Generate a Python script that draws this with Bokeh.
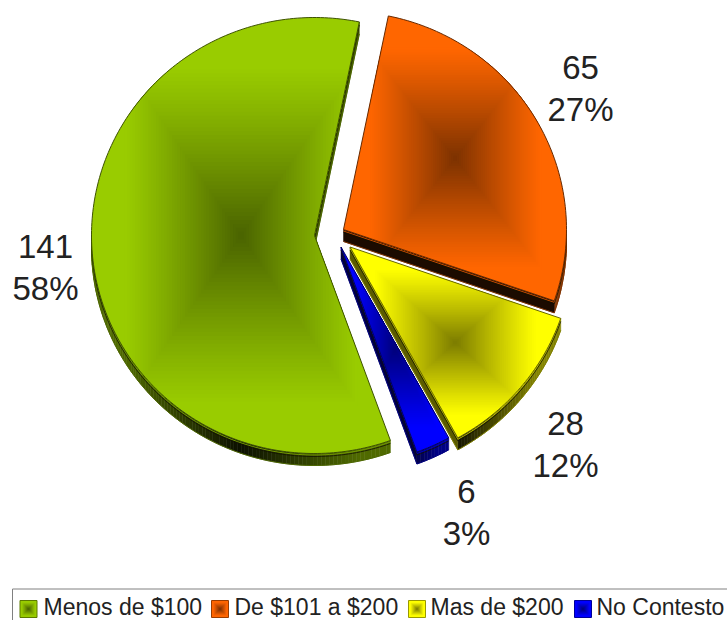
from bokeh.plotting import figure
from bokeh.models import Range1d
from bokeh.embed import file_html
from bokeh.resources import INLINE
import math

categories = ["Menos de $100", "De $101 a $200", "Mas de $200", "No Contesto"]
values = [141, 65, 28, 6]
percent_labels = ["58%", "27%", "12%", "3%"]
base_colors = [(153, 204, 0), (255, 102, 0), (255, 255, 0), (0, 0, 255)]

# layout
START = 160.1
APEX = [(314, 235), (343, 229), (349.5, 246.5), (340.5, 246.5)]
RX, RY = 223, 218
DEPTH = 12
LABEL_POS = [(45, 246), (580, 67), (565, 423), (466, 491)]
LABEL_GAP = 42
LEGEND_X = [19.5, 211, 408, 574]
TEXT_X = [43, 234, 430, 596]
GRAD_END = 0.78
DARK = 0.48

p = figure(width=727, height=620, x_range=Range1d(0, 727), y_range=Range1d(620, 0),
           output_backend="svg", toolbar_location=None, min_border=0,
           outline_line_color=None)
p.axis.visible = False
p.grid.visible = False
p.background_fill_color = "white"
p.border_fill_color = "white"


def hexc(c):
    return "#%02x%02x%02x" % tuple(int(round(max(0, min(255, v)))) for v in c)


def clip(poly, x0, x1, y0, y1):
    def run(pts, inside, inter):
        out = []
        for i in range(len(pts)):
            a, b = pts[i - 1], pts[i]
            ia, ib = inside(a), inside(b)
            if ib:
                if not ia:
                    out.append(inter(a, b))
                out.append(b)
            elif ia:
                out.append(inter(a, b))
        return out

    def ix(v):
        return lambda a, b: (v, a[1] + (b[1] - a[1]) * (v - a[0]) / (b[0] - a[0]))

    def iy(v):
        return lambda a, b: (a[0] + (b[0] - a[0]) * (v - a[1]) / (b[1] - a[1]), v)

    for ins, it in [(lambda q: q[0] >= x0, ix(x0)), (lambda q: q[0] <= x1, ix(x1)),
                    (lambda q: q[1] >= y0, iy(y0)), (lambda q: q[1] <= y1, iy(y1))]:
        if poly:
            poly = run(poly, ins, it)
    return poly


def gradient_layers(poly, base, xs, ys, cs):
    bx = [q[0] for q in poly]
    by = [q[1] for q in poly]
    cx, cy = (min(bx) + max(bx)) / 2, (min(by) + max(by)) / 2
    hw, hh = (max(bx) - min(bx)) / 2, (max(by) - min(by)) / 2
    xs.append(bx)
    ys.append(by)
    cs.append(hexc(base))
    n = 44
    for k in range(n):
        u = 1 - k / n
        t = GRAD_END * u
        c = clip(poly, cx - t * hw, cx + t * hw, cy - t * hh, cy + t * hh)
        if len(c) < 3:
            continue
        m = 1 - (1 - DARK) * (1 - u) ** 1.1
        xs.append([q[0] for q in c])
        ys.append([q[1] for q in c])
        cs.append(hexc([v * m for v in base]))


total = sum(values)
angle = START
slices = []
for v, (ax, ay) in zip(values, APEX):
    sweep = 360 * v / total
    n = max(6, int(sweep))
    pts = [(ax, ay)]
    for i in range(n + 1):
        a = math.radians(angle + sweep * i / n)
        pts.append((ax + RX * math.sin(a), ay - RY * math.cos(a)))
    slices.append(pts)
    angle += sweep

for pts, base in zip(slices, base_colors):
    # side wall: the polygon runs clockwise on screen, so an edge going leftwards faces down
    n = len(pts)
    bx = [q[0] for q in pts]
    cx, hw = (min(bx) + max(bx)) / 2, (max(bx) - min(bx)) / 2
    sx, sy, sc = [], [], []
    bot_x, bot_y, rim_y, rim2_y = [], [], [], []
    for i in range(n):
        a, b = pts[i], pts[(i + 1) % n]
        if b[0] < a[0] - 1e-6:
            sx.append([a[0], b[0], b[0], a[0]])
            sy.append([a[1], b[1], b[1] + DEPTH, a[1] + DEPTH])
            mx = (a[0] + b[0]) / 2
            f = min(1, abs(mx - cx) / (hw * GRAD_END))
            m = 0.08 + 0.44 * f
            sc.append(hexc([v * m for v in base]))
            bot_x.append([a[0], b[0]])
            bot_y.append([a[1] + DEPTH, b[1] + DEPTH])
            rim_y.append([a[1] + 1.5, b[1] + 1.5])
            rim2_y.append([a[1] + 3, b[1] + 3])
    p.patches(sx, sy, fill_color=sc, line_color=sc, line_width=0.5)
    p.multi_line(bot_x, bot_y, line_color=hexc([v * 0.5 for v in base]), line_width=1)
    p.multi_line(bot_x, rim_y, line_color=hexc([v * 0.75 for v in base]), line_width=1)
    p.multi_line(bot_x, rim2_y, line_color="#111100", line_width=0.8)
    xs, ys, cs = [], [], []
    gradient_layers(pts, base, xs, ys, cs)
    p.patches(xs, ys, fill_color=cs, line_color=None)
    p.patch([q[0] for q in pts], [q[1] for q in pts], fill_color=None,
            line_color=hexc([v * 0.4 for v in base]), line_width=1)

# data labels
lx, ly, lt = [], [], []
for v, pc, (x, y) in zip(values, percent_labels, LABEL_POS):
    lx += [x, x]
    ly += [y, y + LABEL_GAP]
    lt += [str(v), pc]
p.text(lx, ly, text=lt, text_font={"value": "Liberation Sans"}, text_font_size="33px",
       text_align="center", text_baseline="middle", text_color="#222222")

# legend
p.patch([12, 730, 730, 12], [588.5, 588.5, 630, 630], fill_color=None, line_color="#808080", line_width=1)
SW = 17
sy0 = 600
for name, c, x, tx in zip(categories, base_colors, LEGEND_X, TEXT_X):
    sq = [(x, sy0), (x + SW, sy0), (x + SW, sy0 + SW), (x, sy0 + SW)]
    xs, ys, cs = [], [], []
    gradient_layers(sq, c, xs, ys, cs)
    p.patches(xs, ys, fill_color=cs, line_color=None)
    p.patch([q[0] for q in sq], [q[1] for q in sq], fill_color=None,
            line_color=hexc([v * 0.6 for v in c]), line_width=1)
    p.text([tx], [606], text=[name], text_font={"value": "Liberation Sans"}, text_font_size="23px",
           text_align="left", text_baseline="middle", text_color="#222222")

open("out.html", "w").write(file_html(p, INLINE))
